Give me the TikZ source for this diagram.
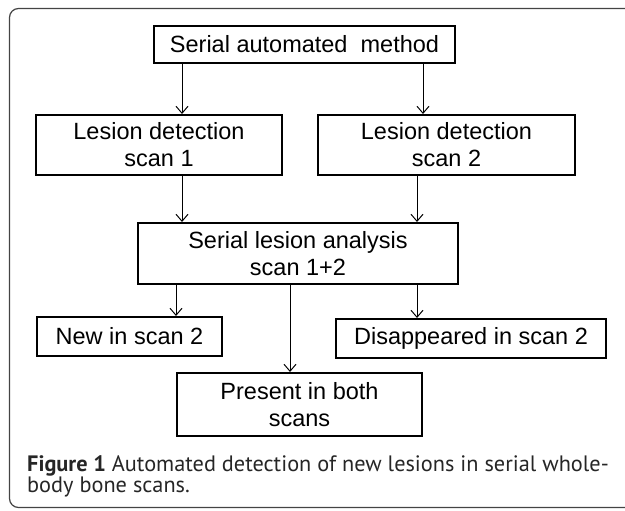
\documentclass[tikz,border=0pt]{standalone}
\usepackage{fontspec}
\setmainfont{Liberation Sans}
\newfontfamily\capfont{PT Sans}
\usetikzlibrary{arrows.meta}
\definecolor{captext}{HTML}{262626}
\definecolor{framecol}{HTML}{444444}
\begin{document}
\begin{tikzpicture}[x=1pt,y=-1pt,
  box/.style={draw=black, line width=2pt, rectangle, inner sep=0pt, align=center,
    font=\fontsize{23.5}{27}\selectfont},
  arr/.style={line width=1pt, -{Straight Barb[length=7pt,width=12pt,line width=1pt]}},
  captxt/.style={anchor=base west, inner sep=0pt, text=captext,
    font=\capfont\fontsize{22.3}{24}\selectfont}]
\path[use as bounding box, clip] (0,0) rectangle (625,511);
\draw[framecol, line width=1.2pt, rounded corners=9pt]
  (640,8.5) -- (9.5,8.5) -- (9.5,507.5) -- (640,507.5);

\node[box, minimum width=301pt, minimum height=37pt] (top) at (304.5,44.5) {Serial automated\ \ method};
\node[box, minimum width=246pt, minimum height=60pt] (ld1) at (159,145) {Lesion detection\\scan 1};
\node[box, minimum width=257pt, minimum height=60pt] (ld2) at (446.5,145) {Lesion detection\\scan 2};
\node[box, minimum width=320pt, minimum height=61pt] (sla) at (298,253.5) {Serial lesion analysis\\scan 1+2};
\node[box, minimum width=185pt, minimum height=39pt] (new) at (129.5,336.5) {New in scan 2};
\node[box, minimum width=270pt, minimum height=39pt] (dis) at (471,338.5) {Disappeared in scan 2};
\node[box, minimum width=245pt, minimum height=63pt] (pre) at (299.5,404.5) {Present in both\\scans};

\draw[arr] ([xshift=-122.5pt]top.south) -- ([xshift=23pt]ld1.north);
\draw[arr] ([xshift=118.5pt]top.south) -- ([xshift=-23.5pt]ld2.north);
\draw[arr] ([xshift=23pt]ld1.south) -- ([xshift=-116pt]sla.north);
\draw[arr] ([xshift=-29.5pt]ld2.south) -- ([xshift=119pt]sla.north);
\draw[arr] ([xshift=-122pt]sla.south) -- ([xshift=46.5pt]new.north);
\draw[arr] ([xshift=-8pt]sla.south) -- ([xshift=-9.5pt]pre.north);
\draw[arr] ([xshift=119pt]sla.south) -- ([xshift=-54pt]dis.north);

\node[captxt] (cap1) at (27,471) {\textbf{Figure 1} Automated detection of new lesions in serial whole-};
\node[captxt] (cap2) at (27,492) {body bone scans.};
\end{tikzpicture}
\end{document}
